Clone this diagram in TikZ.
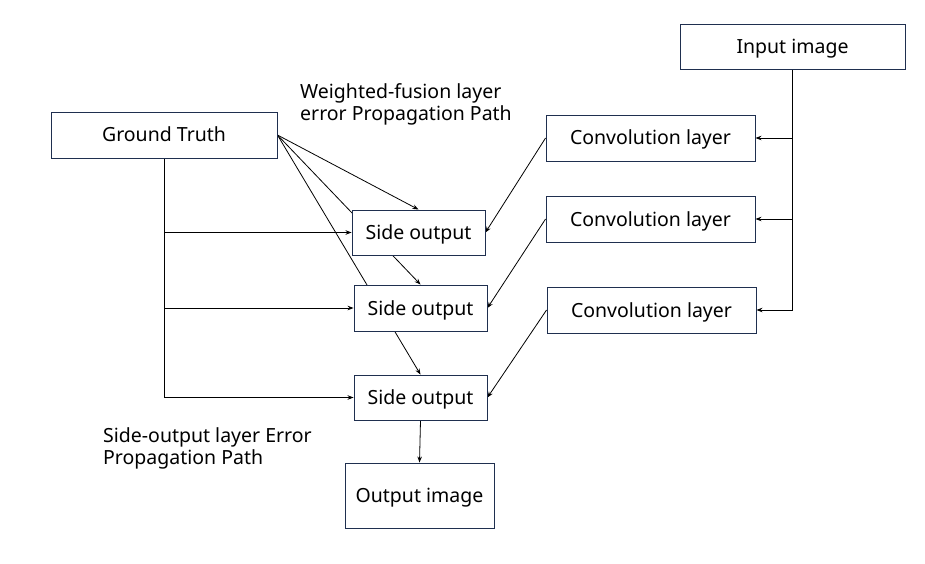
\documentclass[tikz,border=0pt]{standalone}
\usepackage{fontspec}
\setmainfont{Noto Sans}
\usetikzlibrary{arrows.meta,backgrounds}
\definecolor{boxline}{HTML}{1F2F4F}
\begin{document}
\begin{tikzpicture}[x=1pt,y=-1pt,
  every node/.style = {font=\fontsize{19.5}{22.5}\selectfont},
  box/.style = {shape=rectangle, draw=boxline, line width=0.9pt, fill=white,
    inner sep=0pt, align=center, text height=15pt, text depth=1pt},
  link/.style = {-{Stealth[length=6pt,width=4.5pt]}, line width=0.8pt},
  caption/.style = {align=left, anchor=north west, inner sep=0pt}
  ]
  \useasboundingbox (0,0) rectangle (925,564);
  % boxes
  \node [box, minimum width=225, minimum height=45] (inp) at (792.5,46.5) {Input image};
  \node [box, minimum width=226, minimum height=46] (gt) at (164,135) {Ground Truth};
  \node [box, minimum width=209, minimum height=46] (conv1) at (650.5,138) {Convolution layer};
  \node [box, minimum width=209, minimum height=46] (conv2) at (650.5,219) {Convolution layer};
  \node [box, minimum width=209, minimum height=46] (conv3) at (651.5,310) {Convolution layer};
  \node [box, minimum width=133, minimum height=45] (so1) at (418.5,232.5) {Side output};
  \node [box, minimum width=133, minimum height=46] (so2) at (420.5,308) {Side output};
  \node [box, minimum width=133, minimum height=45] (so3) at (420.5,397.5) {Side output};
  \node [box, minimum width=149, minimum height=65] (out) at (419.5,495.5) {Output image};
  % path labels
  \node [caption] (wlabel) at (300,83) {Weighted-fusion layer\\error Propagation Path};
  \node [caption] (slabel) at (103,427) {Side-output layer Error\\Propagation Path};
  % connectors behind the boxes
  \begin{scope}[on background layer]
    \draw [link] (gt.east) -- (so1.north);
    \draw [link] (gt.east) -- (so2.north);
    \draw [link] (gt.east) -- (so3.north);
    \draw [link] (gt.south) |- (so3.west);
    \draw [link] (gt.south |- so1.west) -- (so1.west);
    \draw [link] (gt.south |- so2.west) -- (so2.west);
    \draw [link] (inp.south) |- (conv3.east);
    \draw [link] (inp.south |- conv1.east) -- (conv1.east);
    \draw [link] (inp.south |- conv2.east) -- (conv2.east);
    \draw [link] (conv1.west) -- (so1.east);
    \draw [link] (conv2.west) -- (so2.east);
    \draw [link] (conv3.west) -- (so3.east);
    \draw [link] (so3.south) -- (out.north);
  \end{scope}
\end{tikzpicture}
\end{document}
